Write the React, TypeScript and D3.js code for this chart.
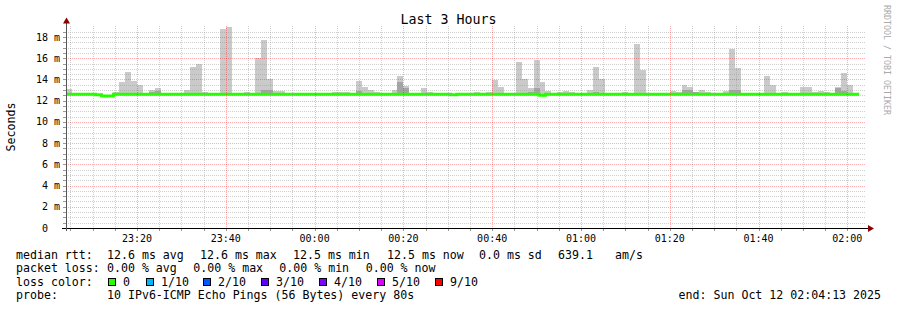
import React from "react";
import * as d3 from "d3";

const W = 897;
const H = 310;
const title = "Last 3 Hours";
const yTitle = "Seconds";
const watermark = "RRDTOOL / TOBI OETIKER";

const startTime = new Date(2025, 9, 11, 23, 4, 13);
const endTime = new Date(2025, 9, 12, 2, 4, 13);
const firstStep = new Date(2025, 9, 11, 23, 4, 0);
const stepSeconds = 80;

const _ = null;

// median rtt per 80s step (ms)
const medianRtt = [
  12.6, 12.6, 12.6, 12.6, 12.6, 12.55, 12.45, 12.45, 12.6, 12.6,
  12.6, 12.6, 12.6, 12.6, 12.6, 12.6, 12.6, 12.6, 12.6, 12.6,
  12.6, 12.6, 12.6, 12.6, 12.6, 12.6, 12.6, 12.6, 12.6, 12.6,
  12.6, 12.6, 12.6, 12.6, 12.6, 12.6, 12.6, 12.6, 12.6, 12.6,
  12.6, 12.6, 12.6, 12.6, 12.6, 12.6, 12.6, 12.6, 12.6, 12.6,
  12.6, 12.6, 12.6, 12.6, 12.6, 12.6, 12.6, 12.6, 12.6, 12.6,
  12.6, 12.6, 12.6, 12.6, 12.6, 12.55, 12.6, 12.6, 12.6, 12.6,
  12.6, 12.6, 12.6, 12.6, 12.6, 12.6, 12.6, 12.6, 12.6, 12.6,
  12.5, 12.6, 12.6, 12.6, 12.6, 12.6, 12.6, 12.6, 12.6, 12.6,
  12.6, 12.6, 12.6, 12.6, 12.6, 12.6, 12.6, 12.6, 12.6, 12.6,
  12.6, 12.6, 12.6, 12.6, 12.6, 12.6, 12.6, 12.6, 12.6, 12.6,
  12.6, 12.6, 12.6, 12.6, 12.6, 12.6, 12.6, 12.6, 12.6, 12.6,
  12.6, 12.6, 12.6, 12.6, 12.6, 12.6, 12.6, 12.6, 12.6, 12.6,
  12.6, 12.6, 12.6, 12.6,
];

// highest ping per step (ms) -> outer smoke
const maxPing = [
  13.1, 12.65, 12.65, 12.65, 12.65, 12.65, 12.5, 12.5, 12.8, 13.75,
  14.7, 13.9, 13.5, 12.65, 13.0, 13.2, 12.65, 12.65, 12.65, 12.65,
  13.0, 15.2, 15.5, 12.8, 12.65, 12.65, 18.8, 18.9, 12.65, 12.65,
  12.85, 12.65, 16.0, 17.7, 14.05, 12.95, 12.95, 12.65, 12.65, 12.65,
  12.65, 12.65, 12.65, 12.65, 12.65, 12.8, 12.8, 12.8, 12.65, 13.85,
  13.3, 13.0, 12.8, 12.65, 12.65, 13.0, 14.35, 13.4, 12.65, 12.65,
  13.2, 12.85, 12.65, 12.65, 12.75, 12.55, 12.65, 12.65, 12.65, 12.85,
  12.65, 12.85, 13.95, 13.3, 12.65, 12.65, 15.65, 14.05, 13.2, 15.8,
  13.8, 12.95, 12.65, 12.85, 12.95, 12.85, 12.65, 12.65, 13.0, 15.2,
  14.05, 12.65, 12.65, 12.65, 12.85, 12.65, 17.35, 14.9, 12.65, 12.65,
  12.65, 12.65, 12.95, 12.85, 13.5, 13.3, 12.85, 13.0, 12.85, 12.65,
  12.65, 12.9, 16.9, 15.1, 12.65, 12.65, 12.65, 12.65, 14.35, 13.5,
  12.65, 12.85, 12.65, 12.65, 13.3, 13.3, 12.85, 12.9, 12.85, 12.65,
  13.25, 14.6, 13.5, 12.65,
];

// second highest ping per step (ms) -> inner darker smoke
const secondPing = [
  _, _, _, _, _, _, _, _, _, _,
  _, _, _, _, 12.85, 12.95, _, _, _, _,
  _, _, _, _, _, _, _, _, _, _,
  _, _, _, 13.0, 13.05, _, _, _, _, _,
  _, _, _, _, _, _, _, _, _, 12.9,
  _, _, _, _, _, _, 13.8, 13.2, _, _,
  _, _, _, _, _, _, _, _, _, _,
  _, _, _, _, _, _, _, _, 12.8, 13.15,
  _, _, _, _, _, _, _, _, _, 12.85,
  _, _, _, _, _, _, _, _, _, _,
  _, _, _, _, 13.0, 13.0, 12.85, _, _, _,
  _, _, 13.0, 13.0, _, _, _, _, _, _,
  _, _, _, _, _, _, _, _, _, _,
  13.2, 12.9, _, _,
];

const yTicks = [2, 4, 6, 8, 10, 12, 14, 16, 18];

const statsRow1 = ["12.6 ms avg", "12.6 ms max", "12.5 ms min", "12.5 ms now", "0.0 ms sd", "639.1", "am/s"];
const statsRow1X = [107, 200, 293, 387, 479, 558, 615];
const statsRow2 = ["0.00 % avg", "0.00 % max", "0.00 % min", "0.00 % now"];
const statsRow2X = [107, 193.3, 279.3, 365.7];
const lossLabels = ["0", "1/10", "2/10", "3/10", "4/10", "5/10", "9/10"];
const lossColors = ["#26ff00", "#00b8ff", "#0059ff", "#5e00ff", "#7e00ff", "#dd00ff", "#ff0000"];
const lossX = [108, 146, 203, 261, 319, 377, 435];
const probeText = "10 IPv6-ICMP Echo Pings (56 Bytes) every 80s";
const endText = "end: Sun Oct 12 02:04:13 2025";

const MONO = "'DejaVu Sans Mono', monospace";

export default function App() {
  const X0 = 67;
  const X1 = 866;
  const x = d3.scaleTime().domain([startTime, endTime]).range([X0, X1]);
  const y = d3.scaleLinear().domain([0, 19]).range([228, 26.4]);
  const yTop = y(19);
  const yBot = y(0);

  const stepStart = (i: number) => new Date(firstStep.getTime() + i * stepSeconds * 1000);

  const majorX = d3.timeMinute.every(20)!.range(startTime, endTime);
  const minorX = d3
    .timeMinute.every(5)!
    .range(startTime, endTime)
    .filter((d) => d.getMinutes() % 20 !== 0);
  const minorY = d3.range(0.5, 19, 0.5).filter((v) => v % 2 !== 0);
  const fmt = d3.timeFormat("%H:%M");

  const pts: [Date, number][] = medianRtt.map((m, i) => [stepStart(i), m]);
  pts.push([stepStart(medianRtt.length), medianRtt[medianRtt.length - 1]]);
  const line = d3
    .line<[Date, number]>()
    .x((d) => x(d[0]))
    .y((d) => y(d[1]))
    .curve(d3.curveStepAfter);

  const bx = (i: number) => [Math.max(X0, x(stepStart(i))), Math.min(X1, x(stepStart(i + 1)))];

  const legendY = [258.5, 272, 285.7, 299.3];
  const minorCol = "rgba(150,150,150,0.45)";
  const majorCol = "rgba(255,0,0,0.33)";

  return (
    <svg width={W} height={H} style={{ display: "block", position: "absolute", left: 0, top: 0, background: "#fff" }}>
      <defs>
        <clipPath id="plot">
          <rect x={X0} y={yTop} width={X1 - X0} height={yBot - yTop} />
        </clipPath>
      </defs>
      <rect x={0} y={0} width={W} height={H} fill="#fff" />

      {/* smoke */}
      <g shapeRendering="crispEdges">
        {maxPing.map((mx, i) => {
          const [a, b] = bx(i);
          const m = medianRtt[i];
          if (mx <= m) return null;
          return <rect key={"l" + i} x={a} y={y(mx)} width={b - a} height={y(m) - y(mx)} fill="#cacaca" />;
        })}
        {secondPing.map((s, i) => {
          if (s == null) return null;
          const [a, b] = bx(i);
          const m = medianRtt[i];
          return <rect key={"d" + i} x={a} y={y(s)} width={b - a} height={y(m) - y(s)} fill="#a4a4a4" />;
        })}
      </g>

      {/* median line */}
      <path d={line(pts) || ""} fill="none" stroke="#26ff00" strokeWidth={3} clipPath="url(#plot)" />

      {/* grid */}
      <g shapeRendering="crispEdges" strokeWidth={1} strokeDasharray="1,1">
        {minorY.map((v) => (
          <line key={"hy" + v} x1={X0 - 1} x2={X1} y1={Math.round(y(v)) + 0.5} y2={Math.round(y(v)) + 0.5} stroke={minorCol} />
        ))}
        {minorX.map((d) => (
          <line key={"vx" + d.getTime()} x1={Math.round(x(d)) + 0.5} x2={Math.round(x(d)) + 0.5} y1={yTop} y2={yBot} stroke={minorCol} />
        ))}
        {yTicks.map((v) => (
          <line key={"Hy" + v} x1={X0 - 1} x2={X1} y1={Math.round(y(v)) + 0.5} y2={Math.round(y(v)) + 0.5} stroke={majorCol} />
        ))}
        {majorX.map((d) => (
          <line key={"Vx" + d.getTime()} x1={Math.round(x(d)) + 0.5} x2={Math.round(x(d)) + 0.5} y1={yTop} y2={yBot} stroke={majorCol} />
        ))}
      </g>

      {/* axis ticks */}
      <g shapeRendering="crispEdges" stroke="#999" strokeWidth={1}>
        {minorX.concat(majorX).map((d) => (
          <line key={"tx" + d.getTime()} x1={Math.round(x(d)) + 0.5} x2={Math.round(x(d)) + 0.5} y1={yBot} y2={yBot + 3} />
        ))}
        {yTicks.concat(minorY).map((v) => (
          <line key={"ty" + v} x1={X0 - 4} x2={X0 - 1} y1={Math.round(y(v)) + 0.5} y2={Math.round(y(v)) + 0.5} />
        ))}
      </g>

      {/* axes */}
      <g shapeRendering="crispEdges">
        <line x1={X0 - 5} x2={X1 + 3} y1={yBot + 0.5} y2={yBot + 0.5} stroke="#000" strokeWidth={1} />
        <line x1={X0 - 0.5} x2={X0 - 0.5} y1={yBot + 3} y2={yTop - 4} stroke="#555" strokeWidth={1} />
      </g>
      <path d={`M${X1 + 2},${yBot - 3} L${X1 + 8},${yBot + 0.5} L${X1 + 2},${yBot + 4} Z`} fill="#8b0000" />
      <path d={`M${X0 - 4},${yTop - 3} L${X0 - 0.5},${yTop - 9} L${X0 + 3},${yTop - 3} Z`} fill="#8b0000" />

      {/* y labels */}
      <g fontFamily={MONO} fontSize={10} fill="#000">
        {yTicks.map((v) => (
          <text key={"yl" + v} x={60} y={y(v) + 3.6} textAnchor="end">
            {v + " m"}
          </text>
        ))}
        <text x={60} y={y(0) + 3.6} textAnchor="end">{"0\u00a0\u00a0"}</text>
        {majorX.map((d) => (
          <text key={"xl" + d.getTime()} x={x(d)} y={242.3} textAnchor="middle">
            {fmt(d)}
          </text>
        ))}
      </g>

      {/* titles */}
      <text x={448.5} y={24} textAnchor="middle" fontFamily={MONO} fontSize={13.3} fill="#000">
        {title}
      </text>
      <text transform="translate(15.3,127) rotate(-90)" textAnchor="middle" fontFamily={MONO} fontSize={11.6} fill="#000">
        {yTitle}
      </text>
      <text transform="translate(884,5) rotate(90)" fontFamily={MONO} fontSize={8.3} fill="#aaa">
        {watermark}
      </text>

      {/* legend */}
      <g fontFamily={MONO} fontSize={11.6} fill="#000">
        <text x={16} y={legendY[0]}>median rtt:</text>
        {statsRow1.map((s, i) => (
          <text key={"r1" + i} x={statsRow1X[i]} y={legendY[0]}>{s}</text>
        ))}
        <text x={16} y={legendY[1]}>packet loss:</text>
        {statsRow2.map((s, i) => (
          <text key={"r2" + i} x={statsRow2X[i]} y={legendY[1]}>{s}</text>
        ))}
        <text x={16} y={legendY[2]}>loss color:</text>
        {lossLabels.map((s, i) => (
          <g key={"lc" + i}>
            <rect x={lossX[i] + 0.5} y={legendY[2] - 7.5} width={7} height={7} fill={lossColors[i]} stroke="#000" strokeWidth={1} shapeRendering="crispEdges" />
            <text x={lossX[i] + 15} y={legendY[2]}>{s}</text>
          </g>
        ))}
        <text x={16} y={legendY[3]}>probe:</text>
        <text x={107} y={legendY[3]}>{probeText}</text>
        <text x={881} y={legendY[3]} textAnchor="end">{endText}</text>
      </g>
    </svg>
  );
}
